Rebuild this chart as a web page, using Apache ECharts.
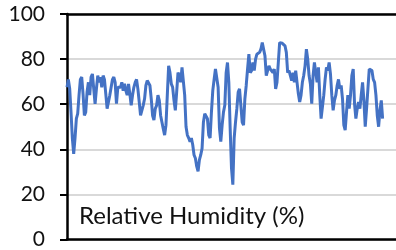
<!DOCTYPE html>
<html>
<head>
<meta charset="utf-8">
<script src="https://cdn.jsdelivr.net/npm/echarts@6/dist/echarts.min.js"></script>
<style>
  html, body { margin: 0; padding: 0; background: #fff; }
  #main { width: 396px; height: 250px; }
</style>
</head>
<body>
<div id="main"></div>
<script>
// y axis ticks
let yTicks = [0, 20, 40, 60, 80, 100];

// relative humidity readings, one per sample
let humidity = [
  67.5, 71, 67, 56.5, 45, 38, 45, 53.6, 55.8, 64, 71, 72, 64.6, 55, 56.5, 65.4, 69.7, 64, 72, 73.4,
  66.8, 60.2, 66.8, 72.7, 69.7, 72, 67.5, 72.7, 71, 64.6, 58, 57.3, 64, 67.5, 71, 72, 69.7, 60.2, 67.5, 68.3,
  67.5, 69.7, 66, 69, 66, 64, 69, 64.6, 59.5, 64, 67.5, 69.7, 71, 66.8, 61, 55, 54.4, 59.5, 62.4, 68.3,
  70.5, 71, 68.3, 62.4, 55, 53, 58, 59.5, 64, 61.7, 55, 52, 49, 46.3, 50.7, 64, 77, 74, 69, 67.5,
  61.7, 57.3, 65.4, 74, 72.7, 69.7, 76.3, 77, 64, 50, 46.3, 45, 43.4, 45, 42, 37.5, 36, 32.4, 30.2, 35.3,
  37.5, 40.4, 52, 55.8, 56.5, 53.6, 46.3, 45, 56.5, 66, 71, 75.6, 76.3, 67.5, 49.3, 43.4, 50.7, 56.5,
  59.5, 74, 78.5, 69.7, 49.3, 31.6, 24.3, 45, 52, 58, 65.4, 66.8, 59.5, 52, 50.7, 62.4, 68.3, 75.6, 82.2, 74,
  74.9, 78.5, 74.9, 80, 82.2, 81.5, 83, 84.4, 87.3, 86.6, 81.5, 72.7, 74.9, 77, 75.6, 76.3, 74, 75.6, 66.8, 69.7,
  78.5, 87.3, 87.6, 87, 87.6, 85.9, 83, 74, 74.9, 72.7, 70.5, 74, 69.7, 74.9, 69.7, 64.6, 61, 64, 69.7, 72.7, 77,
  84.4, 80, 72.7, 69, 60.2, 72.7, 78.5, 74, 69.7, 76.3, 64, 53.6, 52.9, 64, 71, 76.3, 74.9, 78.5, 73.4, 64,
  57.3, 61.7, 64, 68.3, 71, 66.8, 68.3, 62.4, 50.7, 48.5, 56.5, 64, 58, 64, 72.7, 75.6, 60.2, 53.6, 58, 61,
  58, 64, 69.7, 61.7, 50, 58, 66.8, 75.6, 76.3, 74.9, 71, 69.7, 64, 55, 50, 57.3, 61.7, 53.6
];

let seriesLabel = 'Relative Humidity (%)';

// sample index -> [index, value]
let points = humidity.map(function (v, i) { return [i, v]; });

var myChart = echarts.init(document.getElementById('main'));

let blackLine = { show: true, lineStyle: { color: '#000', width: 2.5 } };

let option = {
  animation: false,
  textStyle: { fontFamily: 'Lato' },
  title: {
    text: seriesLabel,
    left: 79,
    top: 204,
    padding: 0,
    textStyle: { fontFamily: 'Lato', fontSize: 24, fontWeight: 'normal', color: '#111' }
  },
  grid: { left: 67, right: 0, top: 14, bottom: 8 },
  xAxis: [{
    type: 'value',
    min: 0,
    max: 246,
    position: 'bottom',
    axisLine: blackLine,
    axisTick: { show: false },
    axisLabel: { show: false },
    splitLine: { show: false }
  }, {
    type: 'value',
    min: 0,
    max: 246,
    position: 'top',
    axisLine: blackLine,
    axisTick: { show: false },
    axisLabel: { show: false },
    splitLine: { show: false }
  }],
  yAxis: {
    type: 'value',
    min: yTicks[0],
    max: yTicks[yTicks.length - 1],
    interval: 20,
    axisLine: blackLine,
    axisTick: { show: true, length: 7, lineStyle: { color: '#000', width: 2 } },
    axisLabel: { fontFamily: 'Lato', fontSize: 21, color: '#111', margin: 22 },
    splitLine: { show: true, lineStyle: { color: '#d9d9d9', width: 2 } }
  },
  series: [{
    name: seriesLabel,
    type: 'line',
    data: points,
    showSymbol: false,
    lineStyle: { color: '#4472C4', width: 3 },
    z: 1
  }]
};

myChart.setOption(option);
</script>
</body>
</html>
